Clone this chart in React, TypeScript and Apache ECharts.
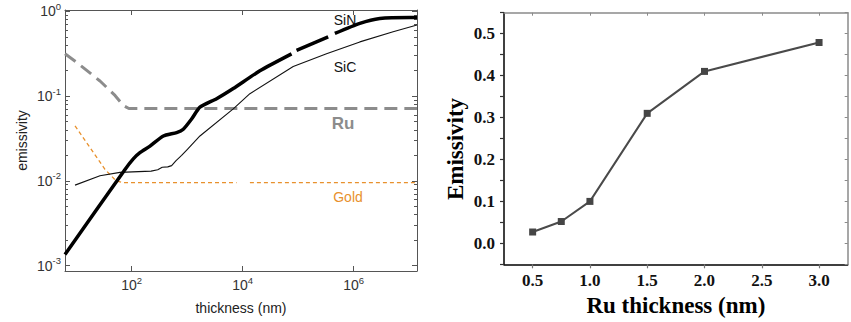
import React, { useEffect, useRef } from "react";
import * as echarts from "echarts";

// ---- Left panel: emissivity vs. thickness (nm), log–log ----
const siN: (number[] | string)[] = [
  [6.3, 0.00135], [75.9, 0.01365], [107, 0.0182], [141, 0.0215], [214, 0.0257],
  [372, 0.0339], [646, 0.0372], [851, 0.0407], [1202, 0.0537], [1698, 0.0741],
  [3388, 0.0933], [6761, 0.123], [20417, 0.1995], [75858, 0.316], "-",
  [93325, 0.347], [346737, 0.501], "-",
  [457088, 0.55], [1290000, 0.724], [2950000, 0.826], [10500000, 0.849], [13800000, 0.849],
];
const siC: number[][] = [
  [9.55, 0.00891], [26.9, 0.01148], [61.7, 0.0126], [224, 0.01303], [295, 0.0135],
  [355, 0.01445], [447, 0.01462], [525, 0.01514], [631, 0.01738], [794, 0.01995],
  [1000, 0.02344], [1698, 0.0339], [6761, 0.0708], [13490, 0.107], [81283, 0.224],
  [323594, 0.316], [1290000, 0.437], [5130000, 0.575], [13800000, 0.692],
];
const ru: number[][] = [
  [6.3, 0.316], [10.2, 0.251], [26.9, 0.151], [50.1, 0.102], [70.8, 0.0776],
  [89.1, 0.0714], [13800000, 0.0714],
];
const gold: (number[] | string)[] = [
  [9.55, 0.0447], [33.1, 0.01365], [52.5, 0.01], [70.8, 0.00955], [7762, 0.00955], "-",
  [13490, 0.00955], [13800000, 0.00955],
];
const logXTicks = [1e2, 1e4, 1e6];
const logYTicks = [1e-3, 1e-2, 1e-1, 1];
const logYMinor = [
  2e-3, 3e-3, 4e-3, 5e-3, 6e-3, 7e-3, 8e-3, 9e-3,
  2e-2, 3e-2, 4e-2, 5e-2, 6e-2, 7e-2, 8e-2, 9e-2,
  0.2, 0.3, 0.4, 0.5, 0.6, 0.7, 0.8, 0.9,
];

// ---- Right panel: emissivity vs. Ru thickness ----
const ruThickness = [0.5, 0.75, 1.0, 1.5, 2.0, 3.0];
const ruEmissivity = [0.027, 0.052, 0.1, 0.31, 0.41, 0.479];
const ruXTicks = [0.5, 1.0, 1.5, 2.0, 2.5, 3.0];
const ruYLabels = [0, 0.1, 0.2, 0.3, 0.4, 0.5];
const ruYTicks = [-0.05, 0, 0.05, 0.1, 0.15, 0.2, 0.25, 0.3, 0.35, 0.4, 0.45, 0.5, 0.55];

const SANS = '"Liberation Sans", Arial, sans-serif';
const SERIF = '"Liberation Serif", "Times New Roman", serif';
const FRAME = "#555";
const GREY = "#8a8a8a";

const powLabel = (v: number) => `{b|10}{e|${Math.round(Math.log10(v))}}`;
const powRich = {
  b: { fontFamily: SANS, fontSize: 14, color: "#333" },
  e: { fontFamily: SANS, fontSize: 9.5, color: "#333", padding: [0, 0, 10, 0] },
};

const LX = { min: 6.3, max: 1.38e7 };
const LY = { min: 8.63e-4, max: 1.04 };
const RX = { min: 0.25, max: 3.25 };
const RY = { min: -0.05, max: 0.55 };

export default function App() {
  const ref = useRef<HTMLDivElement>(null);

  useEffect(() => {
    document.body.style.margin = "0";
    if (!ref.current) return;
    const chart = echarts.init(ref.current, null, { renderer: "svg" });

    const logX = (extra: any) => ({
      type: "log",
      logBase: 10,
      gridIndex: 0,
      ...LX,
      splitLine: { show: false },
      axisLine: { show: true, onZero: false, lineStyle: { color: FRAME, width: 1 } },
      axisTick: { show: true, inside: true, length: 5, customValues: logXTicks, lineStyle: { color: FRAME } },
      ...extra,
    });
    const logY = (extra: any) => ({
      type: "log",
      logBase: 10,
      gridIndex: 0,
      ...LY,
      splitLine: { show: false },
      axisLine: { show: true, onZero: false, lineStyle: { color: FRAME, width: 1 } },
      axisTick: { show: true, inside: true, length: 5, customValues: logYTicks, lineStyle: { color: FRAME } },
      ...extra,
    });
    const minorY = (position: string) =>
      logY({
        position,
        axisLine: { show: false },
        axisLabel: { show: false },
        axisTick: { show: true, inside: true, length: 3, customValues: logYMinor, lineStyle: { color: FRAME } },
      });

    const linX = (extra: any) => ({
      type: "value",
      gridIndex: 1,
      ...RX,
      splitLine: { show: false },
      ...extra,
    });
    const linY = (extra: any) => ({
      type: "value",
      gridIndex: 1,
      ...RY,
      splitLine: { show: false },
      ...extra,
    });

    chart.setOption({
      animation: false,
      backgroundColor: "#fff",
      grid: [
        { left: 65, top: 10, width: 352, height: 261, outerBoundsMode: "none" },
        { left: 504, top: 12.7, width: 343.7, height: 251.6, outerBoundsMode: "none" },
      ],
      xAxis: [
        logX({
          position: "bottom",
          axisLabel: { customValues: logXTicks, formatter: powLabel, rich: powRich, margin: 4 },
          name: "thickness (nm)",
          nameLocation: "middle",
          nameGap: 30,
          nameTextStyle: { fontFamily: SANS, fontSize: 14, color: "#222" },
        }),
        logX({ position: "top", axisLabel: { show: false } }),
        linX({
          position: "bottom",
          axisLine: { show: true, onZero: false, lineStyle: { color: "#000", width: 1.5 } },
          axisTick: { show: true, inside: false, length: 4, customValues: ruXTicks, lineStyle: { color: "#777", width: 1.2 } },
          axisLabel: {
            customValues: ruXTicks,
            formatter: (v: number) => v.toFixed(1),
            fontFamily: SERIF,
            fontWeight: "bold",
            fontSize: 17,
            color: "#111",
            margin: 8,
          },
          name: "Ru thickness (nm)",
          nameLocation: "middle",
          nameGap: 29,
          nameTextStyle: { fontFamily: SERIF, fontWeight: "bold", fontSize: 23, color: "#000" },
        }),
        linX({
          position: "top",
          axisLine: { show: true, onZero: false, lineStyle: { color: GREY, width: 1.5 } },
          axisTick: { show: true, inside: true, length: 3, customValues: ruXTicks, lineStyle: { color: GREY } },
          axisLabel: { show: false },
        }),
      ],
      yAxis: [
        logY({
          position: "left",
          axisLabel: { customValues: logYTicks, formatter: powLabel, rich: powRich, margin: 4 },
          name: "emissivity",
          nameLocation: "middle",
          nameGap: 36,
          nameTextStyle: { fontFamily: SANS, fontSize: 14, color: "#222" },
        }),
        logY({ position: "right", axisLabel: { show: false } }),
        minorY("left"),
        minorY("right"),
        linY({
          position: "left",
          axisLine: { show: true, onZero: false, lineStyle: { color: "#000", width: 1.5 } },
          axisTick: { show: true, inside: false, length: 4, customValues: ruYTicks, lineStyle: { color: "#333", width: 1.2 } },
          axisLabel: {
            customValues: ruYLabels,
            formatter: (v: number) => Math.abs(v).toFixed(1),
            fontFamily: SERIF,
            fontWeight: "bold",
            fontSize: 17,
            color: "#111",
            margin: 9,
          },
          name: "Emissivity",
          nameLocation: "middle",
          nameGap: 37,
          nameTextStyle: { fontFamily: SERIF, fontWeight: "bold", fontSize: 23, color: "#000", padding: [0, 21, 0, 0] },
        }),
        linY({
          position: "right",
          axisLine: { show: true, onZero: false, lineStyle: { color: GREY, width: 1.5 } },
          axisTick: { show: true, inside: true, length: 3, customValues: ruYTicks, lineStyle: { color: GREY } },
          axisLabel: { show: false },
        }),
      ],
      series: [
        {
          name: "Ru",
          type: "line",
          xAxisIndex: 0,
          yAxisIndex: 0,
          data: ru,
          showSymbol: false,
          lineStyle: { color: "#8c8c8c", width: 3, type: [13, 7] },
        },
        {
          name: "Gold",
          type: "line",
          xAxisIndex: 0,
          yAxisIndex: 0,
          data: gold,
          showSymbol: false,
          connectNulls: false,
          lineStyle: { color: "#e8912d", width: 1.3, type: [4, 3] },
        },
        {
          name: "SiC",
          type: "line",
          xAxisIndex: 0,
          yAxisIndex: 0,
          data: siC,
          showSymbol: false,
          lineStyle: { color: "#111", width: 1.1 },
        },
        {
          name: "SiN",
          type: "line",
          xAxisIndex: 0,
          yAxisIndex: 0,
          data: siN,
          showSymbol: false,
          connectNulls: false,
          smooth: 0.2,
          lineStyle: { color: "#000", width: 3.5 },
        },
        {
          name: "Ru thickness",
          type: "line",
          xAxisIndex: 2,
          yAxisIndex: 4,
          data: ruThickness.map((t, i) => [t, ruEmissivity[i]]),
          symbol: "rect",
          symbolSize: 7,
          itemStyle: { color: "#454545" },
          lineStyle: { color: "#4a4a4a", width: 2 },
        },
      ],
      graphic: [
        { type: "text", x: 345, y: 20, style: { text: "SiN", fontFamily: SANS, fontSize: 14, fill: "#111", align: "center", verticalAlign: "middle" } },
        { type: "text", x: 345, y: 67, style: { text: "SiC", fontFamily: SANS, fontSize: 14, fill: "#111", align: "center", verticalAlign: "middle" } },
        { type: "text", x: 343, y: 123, style: { text: "Ru", fontFamily: SANS, fontSize: 17, fontWeight: "bold", fill: "#8c8c8c", align: "center", verticalAlign: "middle" } },
        { type: "text", x: 348, y: 197, style: { text: "Gold", fontFamily: SANS, fontSize: 14, fill: "#e8912d", align: "center", verticalAlign: "middle" } },
      ],
    });

    return () => chart.dispose();
  }, []);

  return <div ref={ref} style={{ position: "absolute", left: 0, top: 0, width: 851, height: 322 }} />;
}
